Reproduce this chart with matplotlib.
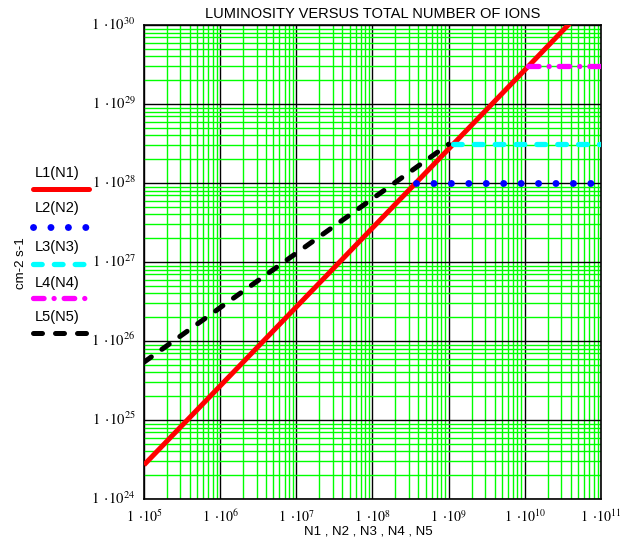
import math
import matplotlib
matplotlib.use("Agg")
import matplotlib.pyplot as plt
import matplotlib.transforms as mtransforms
from matplotlib.ticker import FixedLocator, FuncFormatter, NullFormatter
from matplotlib.lines import Line2D

plt.rcParams['mathtext.fontset'] = 'stix'
plt.rcParams['font.family'] = ['Liberation Sans', 'DejaVu Sans']

# data
N1 = [1e5, 1e11]
L1 = [2.7e24, 2.7e30]
N2 = [3.7e8, 1e11]
L2 = [1e28, 1e28]
N3 = [1.15e9, 1e11]
L3 = [3.15e28, 3.15e28]
N4 = [1.1e10, 1e11]
L4 = [3.0e29, 3.0e29]
N5 = [1e5, 1e9]
L5 = [5.4e25, 3.1e28]
labels = ["L1(N1)", "L2(N2)", "L3(N3)", "L4(N4)", "L5(N5)"]
x_decades = list(range(5, 12))
y_decades = list(range(24, 31))

fig = plt.figure(figsize=(6.29, 5.40), dpi=100)
ax = fig.add_axes([144/629, 41/540, 457/629, 474/540])

styles = [
    dict(color='#ff0000', lw=3.6, ls='-', solid_capstyle='round'),
    dict(color='#0000ff', lw=5.0, ls=(0, (0.01, 2.5)), dash_capstyle='round'),
    dict(color='#00ffff', lw=3.8, ls=(0, (1.65, 2.3)), dash_capstyle='round'),
    dict(color='#ff00ff', lw=3.8, ls=(0, (2.0, 1.9, 0.01, 1.9)), dash_capstyle='round'),
    dict(color='#000000', lw=3.6, ls=(0, (1.8, 2.6)), dash_capstyle='round'),
]
series = [(N1, L1), (N2, L2), (N3, L3), (N4, L4), (N5, L5)]
for i, (x, y) in enumerate(series):
    st = dict(styles[i])
    if i == 0:
        st['solid_capstyle'] = 'butt'
    ax.plot(x, y, zorder=3 + i, **st)

ax.set_xscale('log')
ax.set_yscale('log')
ax.set_xlim(1e5, 1e11)
ax.set_ylim(1e24, 1e30)

ax.xaxis.set_major_locator(FixedLocator([10.0**e for e in x_decades]))
ax.yaxis.set_major_locator(FixedLocator([10.0**e for e in y_decades]))
ax.xaxis.set_minor_locator(FixedLocator([k * 10.0**e for e in x_decades[:-1] for k in range(2, 10)]))
ax.yaxis.set_minor_locator(FixedLocator([k * 10.0**e for e in y_decades[:-1] for k in range(2, 10)]))
ax.xaxis.set_minor_formatter(NullFormatter())
ax.yaxis.set_minor_formatter(NullFormatter())

def fmt(v, pos):
    e = int(round(math.log10(v)))
    return r'$1\ \cdot\! 10^{%d}$' % e

ax.xaxis.set_major_formatter(FuncFormatter(fmt))
ax.yaxis.set_major_formatter(FuncFormatter(fmt))
ax.tick_params(which='both', length=0)
ax.tick_params(axis='x', pad=7, labelsize=10)
ax.tick_params(axis='y', pad=6, labelsize=10.5)
shift = mtransforms.ScaledTranslation(0, -5/100, fig.dpi_scale_trans)
for t in ax.get_yticklabels():
    t.set_verticalalignment('baseline')
    t.set_transform(t.get_transform() + shift)

ax.grid(which='minor', color='#00ff00', lw=1.0)
ax.grid(which='major', color='#000000', lw=1.0)
ax.set_axisbelow(True)
for s in ax.spines.values():
    s.set_color('black')
    s.set_linewidth(1.2)

ax.set_title("LUMINOSITY VERSUS TOTAL NUMBER OF IONS", fontsize=10.5, pad=5)
ax.set_xlabel("N1 , N2 , N3 , N4 , N5", fontsize=9.5, va='center')
ax.xaxis.set_label_coords(0.49, -0.068)
fig.text(21/629, 1 - 263/540, "cm-2 s-1", rotation=90, fontsize=9.5,
         ha='center', va='center')

# legend built by hand: label above a line sample
text_y = [173, 208, 247, 283, 317]
line_y = [189, 227, 264, 298, 333]
for i, lab in enumerate(labels):
    fig.text(35/629, 1 - text_y[i]/540, lab, fontsize=10.5, ha='left', va='center')
    ly = 1 - line_y[i]/540
    fig.add_artist(Line2D([33/629, 89/629], [ly, ly], transform=fig.transFigure,
                          **styles[i]))

fig.savefig("out.png", dpi=100)
